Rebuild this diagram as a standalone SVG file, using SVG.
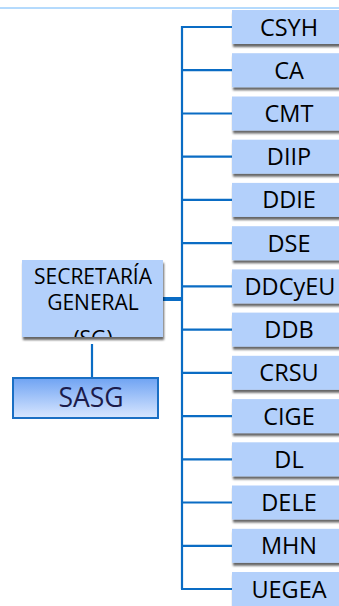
<svg xmlns="http://www.w3.org/2000/svg" width="339" height="606" viewBox="0 0 339 606">
<defs>
<style>
.box{fill:#b3d0fb;filter:url(#sh)}
.lbl{font-family:"Open Sans","Liberation Sans",sans-serif;font-size:23.5px;fill:#000;text-anchor:middle}
.sg{font-family:"Open Sans","Liberation Sans",sans-serif;font-size:21px;fill:#000;text-anchor:middle}
.ln{stroke:#0a6cc4;stroke-width:2.2;fill:none}
</style>
<filter id="sh" x="-10%" y="-20%" width="130%" height="160%">
<feDropShadow dx="1" dy="3" stdDeviation="1.3" flood-color="#000" flood-opacity="0.6"/>
</filter>
<linearGradient id="g" x1="0" y1="0" x2="0" y2="1">
<stop offset="0" stop-color="#6fa3f3"/>
<stop offset="1" stop-color="#d9e7ff"/>
</linearGradient>
<clipPath id="sgclip"><rect x="22" y="260" width="141" height="77"/></clipPath>
</defs>
<rect width="339" height="606" fill="#fff"/>
<line x1="0" y1="8" x2="339" y2="8" stroke="#6ab6fb" stroke-width="1"/>
<g id="connectors">
<line class="ln" x1="182" y1="26" x2="182" y2="589"/>
<line class="ln" x1="181" y1="27" x2="232" y2="27"/>
<line class="ln" x1="181" y1="70.2" x2="232" y2="70.2"/>
<line class="ln" x1="181" y1="113.5" x2="232" y2="113.5"/>
<line class="ln" x1="181" y1="156.7" x2="232" y2="156.7"/>
<line class="ln" x1="181" y1="199.9" x2="232" y2="199.9"/>
<line class="ln" x1="181" y1="243.2" x2="232" y2="243.2"/>
<line class="ln" x1="181" y1="286.4" x2="232" y2="286.4"/>
<line class="ln" x1="181" y1="329.6" x2="232" y2="329.6"/>
<line class="ln" x1="181" y1="372.8" x2="232" y2="372.8"/>
<line class="ln" x1="181" y1="416.1" x2="232" y2="416.1"/>
<line class="ln" x1="181" y1="459.3" x2="232" y2="459.3"/>
<line class="ln" x1="181" y1="502.5" x2="232" y2="502.5"/>
<line class="ln" x1="181" y1="545.8" x2="232" y2="545.8"/>
<line class="ln" x1="181" y1="589" x2="232" y2="589"/>
<line x1="163" y1="299" x2="183" y2="299" stroke="#0a6cc4" stroke-width="4"/>
<line class="ln" x1="92" y1="344" x2="92" y2="378"/>
</g>
<g id="sg">
<rect class="box" x="22" y="260" width="141" height="77"/>
<g clip-path="url(#sgclip)">
<text class="sg" x="93" y="284">SECRETARÍA</text>
<text class="sg" x="93" y="310">GENERAL</text>
<text class="sg" x="93" y="346" font-size="17">(SG)</text>
</g>
</g>
<g id="sasg">
<rect x="13" y="378" width="145" height="40" fill="url(#g)" stroke="#1a6fc4" stroke-width="2"/>
<text x="91" y="407" font-family="Open Sans, Liberation Sans, sans-serif" font-size="26.5" fill="#1b1b4b" text-anchor="middle">SASG</text>
</g>
<g id="n1"><rect class="box" x="232" y="10" width="114" height="34"/><text class="lbl" x="289" y="35.5">CSYH</text></g>
<g id="n2"><rect class="box" x="232" y="53.2" width="114" height="34"/><text class="lbl" x="289" y="78.7">CA</text></g>
<g id="n3"><rect class="box" x="232" y="96.5" width="114" height="34"/><text class="lbl" x="289" y="122">CMT</text></g>
<g id="n4"><rect class="box" x="232" y="139.7" width="114" height="34"/><text class="lbl" x="289" y="165.2">DIIP</text></g>
<g id="n5"><rect class="box" x="232" y="182.9" width="114" height="34"/><text class="lbl" x="289" y="208.4">DDIE</text></g>
<g id="n6"><rect class="box" x="232" y="226.2" width="114" height="34"/><text class="lbl" x="289" y="251.7">DSE</text></g>
<g id="n7"><rect class="box" x="232" y="269.4" width="114" height="34"/><text class="lbl" x="290" y="294.9">DDCyEU</text></g>
<g id="n8"><rect class="box" x="232" y="312.6" width="114" height="34"/><text class="lbl" x="289" y="338.1">DDB</text></g>
<g id="n9"><rect class="box" x="232" y="355.8" width="114" height="34"/><text class="lbl" x="289" y="381.3">CRSU</text></g>
<g id="n10"><rect class="box" x="232" y="399.1" width="114" height="34"/><text class="lbl" x="289" y="424.6">CIGE</text></g>
<g id="n11"><rect class="box" x="232" y="442.3" width="114" height="34"/><text class="lbl" x="289" y="467.8">DL</text></g>
<g id="n12"><rect class="box" x="232" y="485.5" width="114" height="34"/><text class="lbl" x="289" y="511">DELE</text></g>
<g id="n13"><rect class="box" x="232" y="528.8" width="114" height="34"/><text class="lbl" x="289" y="554.3">MHN</text></g>
<g id="n14"><rect class="box" x="232" y="572" width="114" height="34"/><text class="lbl" x="289" y="597.5">UEGEA</text></g>
</svg>
